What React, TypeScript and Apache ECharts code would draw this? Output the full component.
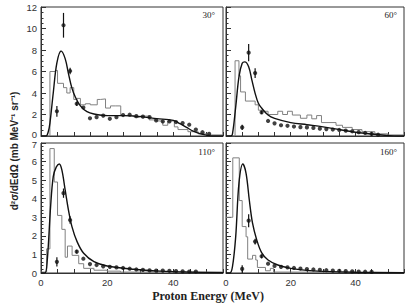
import React, { useEffect, useRef } from "react";
import * as echarts from "echarts";

// ---------- data ----------
const angleLabels = ["30°", "60°", "110°", "160°"];

// histogram (bin left edges, value in bin)
const hist30E = [0, 2.7, 4.3, 5.0, 6.8, 7.8, 8.8, 9.9, 10.9, 11.9, 13.4, 14.9, 17.0, 18.0, 19.5, 21.0, 22.6, 24.1, 28.1, 29.7, 32.7, 34.8, 36.8, 38.3, 40.3, 41.4, 44.4, 47.5, 50, 55];
const hist30V = [0, 6.0, 6.1, 4.9, 4.5, 4.0, 4.5, 3.4, 3.5, 2.9, 3.0, 2.9, 3.4, 3.45, 2.6, 2.8, 2.8, 1.9, 1.75, 1.85, 1.5, 1.4, 1.0, 1.4, 0.85, 0.6, 0.4, 0.2, 0.1, 0.1];
const hist60E = [0, 2.8, 4.0, 4.5, 6.0, 9.0, 10, 11.5, 13, 16, 17.5, 19, 20.5, 23, 25, 26.5, 28, 29.5, 34, 36, 39, 42, 46, 50, 55];
const hist60V = [0, 7.0, 5.6, 4.1, 3.25, 2.9, 2.4, 2.3, 2.0, 2.3, 2.0, 2.3, 1.95, 1.65, 1.95, 1.6, 1.9, 1.25, 1.0, 0.8, 0.6, 0.4, 0.2, 0.1, 0.1];
const hist110E = [0, 1.7, 2.7, 4.0, 5.0, 6.3, 7.3, 8.0, 9.4, 11.4, 12.9, 16, 20, 24, 55];
const hist110V = [0.05, 1.3, 6.7, 4.9, 3.1, 2.35, 0.85, 1.45, 0.95, 0.5, 0.25, 0.15, 0.1, 0.05, 0.05];
const hist160E = [0, 2.1, 4.1, 5.0, 6.2, 6.7, 8.2, 9.2, 9.7, 12.2, 13.7, 14.7, 20, 55];
const hist160V = [3.0, 6.2, 3.9, 2.5, 1.95, 0.75, 0.95, 0.7, 0.3, 0.12, 0.25, 0.05, 0.02, 0.02];

// model curves
const curve30E = [0, 1.5, 2.2, 2.7, 3.7, 4.8, 6.1, 7.3, 8.3, 9.3, 10.4, 11.9, 13.9, 16, 20, 25, 30, 35, 40, 42, 44, 46, 48, 50, 52, 55];
const curve30V = [0, 0, 0.4, 1.2, 4.0, 6.8, 7.9, 7.2, 5.8, 4.5, 3.6, 2.8, 2.26, 2.05, 1.9, 1.9, 1.8, 1.62, 1.45, 1.15, 0.8, 0.45, 0.22, 0.08, 0, 0];
const curve60E = [0, 1.5, 2, 3, 4, 5, 5.8, 7, 8, 9, 10, 11, 13, 15, 20, 25, 30, 35, 40, 45, 50, 53, 55];
const curve60V = [0, 0, 0.2, 2.7, 5.5, 6.76, 6.9, 6.45, 5.2, 3.97, 3.04, 2.6, 1.95, 1.64, 1.25, 1.05, 0.85, 0.6, 0.35, 0.18, 0.05, 0, 0];
const curve110E = [0, 1.2, 1.9, 2.9, 3.7, 4.6, 5.5, 6.3, 7.3, 8.3, 9.35, 10.9, 12.9, 16, 20, 28, 36, 44, 55];
const curve110V = [0, 0, 0.7, 3.57, 5.19, 5.7, 5.87, 5.55, 4.47, 3.39, 2.5, 1.69, 1.06, 0.61, 0.38, 0.2, 0.1, 0.05, 0.02];
const curve160E = [0, 1.2, 2, 3, 4, 5.2, 6.2, 7.2, 8.2, 9.5, 11, 13, 16, 20, 25, 30, 40, 55];
const curve160V = [0, 0, 0.34, 1.96, 4.83, 5.87, 5.37, 3.93, 2.68, 1.78, 1.1, 0.7, 0.43, 0.25, 0.14, 0.09, 0.04, 0.01];

// measured points
const pts30E = [4.8, 6.8, 8.8, 10.8, 12.8, 14.8, 16.8, 18.8, 20.8, 22.8, 24.8, 26.8, 28.8, 30.8, 32.8, 34.8, 36.8, 38.8, 40.8, 42.8, 44.8, 46.8, 48.8, 50.8];
const pts30V = [2.3, 10.3, 6.05, 3.0, 2.65, 1.65, 1.75, 1.9, 1.6, 1.75, 1.95, 1.98, 1.85, 1.8, 1.75, 1.45, 1.35, 1.35, 1.3, 1.2, 1.05, 0.6, 0.35, 0.2];
const pts30Err = [0.5, 1.15, 0.3, 0.2];
const pts60E = [5, 7, 9, 11, 13, 15, 17, 19, 21, 23, 25, 27, 29, 31, 33, 35, 37, 39, 41, 43, 45, 47];
const pts60V = [0.8, 7.75, 5.85, 2.2, 1.4, 1.18, 1.0, 0.95, 0.88, 0.82, 0.8, 0.75, 0.68, 0.64, 0.6, 0.56, 0.5, 0.44, 0.36, 0.28, 0.2, 0.12];
const pts60Err = [0.25, 0.8, 0.45, 0.15];
const pts110E = [4.8, 6.8, 8.8, 10.8, 12.8, 14.8, 16.8, 18.8, 20.8, 22.8, 24.8, 26.8, 28.8, 30.8, 32.8, 34.8, 36.8, 38.8, 40.8, 42.8, 44.8, 46.8];
const pts110V = [0.6, 4.3, 2.85, 1.15, 0.77, 0.48, 0.43, 0.36, 0.33, 0.3, 0.27, 0.23, 0.19, 0.17, 0.14, 0.13, 0.13, 0.12, 0.1, 0.09, 0.08, 0.08];
const pts110Err = [0.25, 0.25, 0.2, 0.1];
const pts160E = [5, 7, 9, 11, 13, 15, 17, 19, 21, 23, 25, 27, 29, 31, 33, 35, 37, 39, 41, 43, 45];
const pts160V = [0.22, 2.82, 1.69, 0.9, 0.5, 0.38, 0.33, 0.3, 0.27, 0.24, 0.21, 0.19, 0.17, 0.15, 0.13, 0.12, 0.1, 0.09, 0.08, 0.07, 0.06];
const pts160Err = [0.2, 0.35, 0.15, 0.1];

const xTickLabels = [0, 20, 40];

const panels = [
  { hE: hist30E, hV: hist30V, cE: curve30E, cV: curve30V, pE: pts30E, pV: pts30V, err: pts30Err },
  { hE: hist60E, hV: hist60V, cE: curve60E, cV: curve60V, pE: pts60E, pV: pts60V, err: pts60Err },
  { hE: hist110E, hV: hist110V, cE: curve110E, cV: curve110V, pE: pts110E, pV: pts110V, err: pts110Err },
  { hE: hist160E, hV: hist160V, cE: curve160E, cV: curve160V, pE: pts160E, pV: pts160V, err: pts160Err },
];

const zip = (a: number[], b: number[]) => a.map((v, i) => [v, b[i]]);

export default function App() {
  const ref = useRef<HTMLDivElement>(null);
  useEffect(() => {
    if (!ref.current) return;
    const chart = echarts.init(ref.current, undefined, { renderer: "svg" });
    const gridBoxes = [
      { left: 41, top: 7, width: 182, height: 129 },
      { left: 226, top: 7, width: 178, height: 129 },
      { left: 41, top: 143, width: 182, height: 130 },
      { left: 226, top: 143, width: 178, height: 130 },
    ];
    const grids = gridBoxes.map((g) => ({ ...g, show: true, borderColor: "#333", borderWidth: 1, backgroundColor: "transparent" }));

    const labelFont = "Liberation Sans, Arial, sans-serif";
    const labelStyle = { fontFamily: labelFont, fontSize: 9.5, color: "#333" };

    const xAxis = grids.map((_, i) => ({
      type: "value",
      gridIndex: i,
      min: 0,
      max: 55,
      interval: 5,
      axisLine: { show: true, lineStyle: { color: "#333", width: 1 } },
      axisTick: { show: true, inside: true, length: 4, lineStyle: { color: "#333" } },
      splitLine: { show: false },
      axisLabel: {
        show: i >= 2,
        ...labelStyle,
        margin: 4,
        lineHeight: 10,
        formatter: (v: number) => (xTickLabels.includes(v) ? String(v) : ""),
      },
    }));
    const yAxis = grids.map((_, i) => ({
      type: "value",
      gridIndex: i,
      min: 0,
      max: i < 2 ? 12 : 7,
      interval: i < 2 ? 2 : 1,
      axisLine: { show: true, lineStyle: { color: "#333", width: 1 } },
      axisTick: { show: true, inside: true, length: 5, lineStyle: { color: "#333" } },
      minorTick: { show: true, splitNumber: i < 2 ? 4 : 5, length: 2.5, lineStyle: { color: "#333" } },
      splitLine: { show: false },
      axisLabel: {
        show: i % 2 === 0,
        ...labelStyle,
        margin: 4,
        // the two labels that meet between the rows are drawn separately below
        showMinLabel: i !== 0,
        showMaxLabel: i !== 2,
      },
    }));

    const series: any[] = [];
    panels.forEach((p, i) => {
      series.push({
        type: "line",
        xAxisIndex: i,
        yAxisIndex: i,
        step: "end",
        data: zip(p.hE, p.hV),
        showSymbol: false,
        lineStyle: { color: "#808080", width: 1 },
        z: 2,
      });
      series.push({
        type: "line",
        xAxisIndex: i,
        yAxisIndex: i,
        smooth: 0.35,
        data: zip(p.cE, p.cV),
        showSymbol: false,
        lineStyle: { color: "#111", width: 1.4 },
        z: 3,
      });
      series.push({
        type: "scatter",
        xAxisIndex: i,
        yAxisIndex: i,
        data: zip(p.pE, p.pV),
        symbol: "circle",
        symbolSize: 4.2,
        itemStyle: { color: "#111" },
        z: 4,
      });
      series.push({
        type: "custom",
        xAxisIndex: i,
        yAxisIndex: i,
        data: p.err.map((e, k) => [p.pE[k], p.pV[k] - e, p.pV[k] + e]),
        encode: { x: 0, y: [1, 2] },
        renderItem: (_params: any, api: any) => {
          const a = api.coord([api.value(0), api.value(1)]);
          const b = api.coord([api.value(0), api.value(2)]);
          return {
            type: "line",
            shape: { x1: a[0], y1: a[1], x2: b[0], y2: b[1] },
            style: { stroke: "#111", lineWidth: 1.2 },
          };
        },
        z: 4,
      });
    });

    const angleFont = { fontFamily: "Liberation Serif, Times New Roman, serif", fontSize: 9, fill: "#222" };
    const graphic: any[] = [
      { type: "text", right: 417 - 215, top: 10, style: { text: angleLabels[0], ...angleFont, textAlign: "right" } },
      { type: "text", right: 417 - 397, top: 10, style: { text: angleLabels[1], ...angleFont, textAlign: "right" } },
      { type: "text", right: 417 - 215, top: 147, style: { text: angleLabels[2], ...angleFont, textAlign: "right" } },
      { type: "text", right: 417 - 397, top: 147, style: { text: angleLabels[3], ...angleFont, textAlign: "right" } },
      // the lowest label of the upper row and the highest of the lower row
      { type: "text", x: 37, y: 139, style: { text: "0", fontFamily: labelFont, fontSize: 9.5, fill: "#333", textAlign: "right", textVerticalAlign: "bottom" } },
      { type: "text", x: 37, y: 139.5, style: { text: "7", fontFamily: labelFont, fontSize: 9.5, fill: "#333", textAlign: "right", textVerticalAlign: "top" } },
      {
        type: "text",
        x: 14,
        y: 151,
        rotation: Math.PI / 2,
        style: {
          text: "d²σ/dEdΩ (mb MeV⁻¹ sr⁻¹)",
          fontFamily: labelFont,
          fontWeight: "bold",
          fontSize: 10,
          fill: "#222",
          textAlign: "center",
          textVerticalAlign: "middle",
        },
      },
      {
        type: "text",
        x: 208,
        y: 296,
        style: {
          text: "Proton Energy (MeV)",
          fontFamily: "Liberation Serif, Times New Roman, serif",
          fontWeight: "bold",
          fontSize: 12,
          fill: "#222",
          textAlign: "center",
          textVerticalAlign: "middle",
        },
      },
    ];

    chart.setOption({ animation: false, grid: grids, xAxis, yAxis, series, graphic });
    return () => chart.dispose();
  }, []);
  return <div ref={ref} style={{ position: "fixed", left: 0, top: 0, width: 417, height: 304, background: "#fff" }} />;
}
